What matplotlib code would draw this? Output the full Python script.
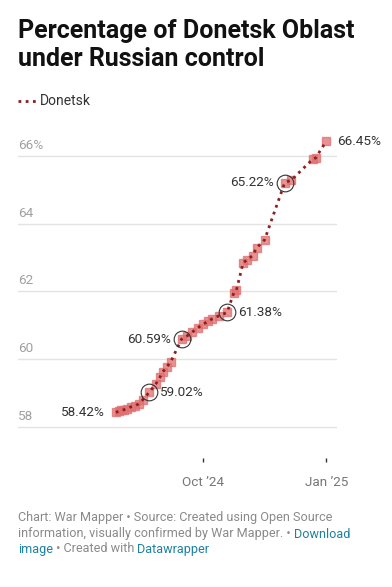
import matplotlib
matplotlib.use("Agg")
import matplotlib.pyplot as plt
import matplotlib.transforms as mtransforms
from datetime import datetime

plt.rcParams['font.family'] = ['Roboto', 'DejaVu Sans']

# data
dates = ["2024-07-28", "2024-07-30", "2024-08-01", "2024-08-03", "2024-08-05",
         "2024-08-08", "2024-08-11", "2024-08-14", "2024-08-17", "2024-08-22",
         "2024-08-27", "2024-08-30", "2024-09-01", "2024-09-04", "2024-09-07",
         "2024-09-15", "2024-09-19", "2024-09-23", "2024-09-27", "2024-10-01",
         "2024-10-05", "2024-10-08", "2024-10-13", "2024-10-19", "2024-10-24",
         "2024-10-26", "2024-10-31", "2024-11-03", "2024-11-07", "2024-11-10",
         "2024-11-16", "2024-12-01", "2024-12-06", "2024-12-22", "2024-12-24",
         "2025-01-01"]
donetsk = [58.42, 58.45, 58.48, 58.50, 58.52,
           58.58, 58.61, 58.67, 58.79, 59.02,
           59.27, 59.47, 59.62, 59.77, 59.92,
           60.59, 60.68, 60.80, 60.92, 61.03,
           61.12, 61.19, 61.28, 61.38, 61.96,
           62.05, 62.85, 62.94, 63.06, 63.29,
           63.53, 65.22, 65.30, 65.92, 65.95,
           66.45]

# labelled points: index, side, circled
highlights = [(0, "left", False), (9, "right", True), (15, "left", True),
              (23, "right", True), (31, "left", True), (35, "right", False)]

y_ticks = [58, 60, 62, 64, 66]
x_ticks = ["2024-10-01", "2025-01-01"]
x_tick_labels = ["Oct \u201924", "Jan \u201925"]

x = [datetime.strptime(d, "%Y-%m-%d") for d in dates]

W, H = 392, 587
fig = plt.figure(figsize=(W / 100, H / 100), dpi=100)

ax_left, ax_right = 18, 337
ax_top, ax_bot = 130, 458
ax = fig.add_axes([ax_left / W, 1 - ax_bot / H, (ax_right - ax_left) / W, (ax_bot - ax_top) / H])
ax.set_xlim(datetime(2024, 5, 16), datetime(2025, 1, 9))
ax.set_ylim(57.07, 66.78)

for s in ax.spines.values():
    s.set_visible(False)

# gridlines and y labels
blend = mtransforms.blended_transform_factory(ax.transAxes, ax.transData)
for v in y_ticks:
    ax.axhline(v, color="#e3e3e3", lw=1, zorder=0)
    lab = f"{v}%" if v == y_ticks[-1] else str(v)
    ax.text(0, v, lab, transform=blend + mtransforms.ScaledTranslation(0, 4 / 100, fig.dpi_scale_trans),
            ha="left", va="bottom", fontsize=9.7, color="#a0a0a0")
ax.set_yticks([])

ax.set_xticks([datetime.strptime(d, "%Y-%m-%d") for d in x_ticks])
ax.set_xticklabels(x_tick_labels, fontsize=9.7, color="#777777")
ax.tick_params(axis="x", direction="out", length=3, width=1, color="#333333", pad=10)

ax.plot(x, donetsk, ls="none", marker="s", ms=5.3, color="#e06f6f", alpha=0.75, zorder=2, clip_on=False)
ax.plot(x, donetsk, ls=(0, (1, 1.6)), lw=2, color="#8b1e1e", zorder=3, clip_on=False)

for i, side, circ in highlights:
    if circ:
        ax.plot(x[i], donetsk[i], marker="o", ms=12, mfc="none", mec="#333333", mew=0.8, zorder=4)
    dx = -11 if side == "left" else 11
    ax.annotate(f"{donetsk[i]:.2f}%", (x[i], donetsk[i]), xytext=(dx * 0.72, 0),
                textcoords="offset points", ha="right" if side == "left" else "left",
                va="center", fontsize=9.7, color="#333333", zorder=5)

# title
fig.text(18 / W, 1 - 19 / H, "Percentage of Donetsk Oblast\nunder Russian control",
         ha="left", va="top", fontsize=18, fontweight="bold", color="#111111", linespacing=1.22)

# legend
fig.lines.append(plt.Line2D([18 / W, 36 / W], [1 - 101 / H] * 2, transform=fig.transFigure,
                            ls=(0, (1, 1.6)), lw=2, color="#8b1e1e"))
fig.text(40 / W, 1 - 101 / H, "Donetsk", ha="left", va="center", fontsize=10, color="#333333")

# footer
grey = "#8a8a8a"
link = "#1d81a2"
fs = 9.1
t1 = fig.text(18 / W, 1 - 518 / H, "Chart: War Mapper \u2022 Source: Created using Open Source",
              ha="left", va="center", fontsize=fs, color=grey)
t2 = fig.text(18 / W, 1 - 534 / H, "information, visually confirmed by War Mapper. \u2022 ",
              ha="left", va="center", fontsize=fs, color=grey)
fig.canvas.draw()
t2b = plt.annotate("Download", xy=(1, 0), xycoords=t2, va="bottom", ha="left",
                   fontsize=fs, color=link, annotation_clip=False)
t3 = fig.text(18 / W, 1 - 549 / H, "image", ha="left", va="center", fontsize=fs, color=link)
t3b = plt.annotate(" \u2022 Created with ", xy=(1, 0), xycoords=t3, va="bottom", ha="left",
                   fontsize=fs, color=grey, annotation_clip=False)
plt.annotate("Datawrapper", xy=(1, 0), xycoords=t3b, va="bottom", ha="left",
             fontsize=fs, color=link, annotation_clip=False)

fig.savefig("out.png", dpi=100, facecolor="white")
